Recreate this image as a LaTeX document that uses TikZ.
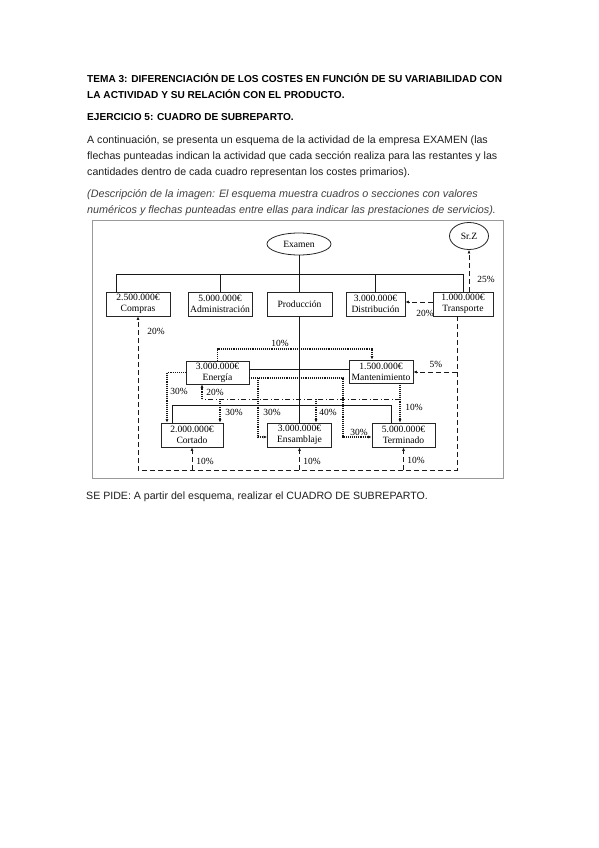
\documentclass[tikz,border=0pt]{standalone}
\usepackage{fontspec}
\setmainfont{Liberation Sans}
\newfontfamily\diagfont{Liberation Serif}
\usetikzlibrary{arrows.meta,shapes.geometric}
\begin{document}
\begin{tikzpicture}[x=1pt,y=-1pt,
  txt/.style={anchor=base west,inner sep=0pt,font=\fontsize{10.6}{13}\selectfont,text=black!88},
  hdr/.style={anchor=base west,inner sep=0pt,font=\fontsize{10.1}{13}\selectfont\bfseries,text=black},
  itx/.style={anchor=base west,inner sep=0pt,font=\fontsize{10.8}{13}\selectfont\itshape,text=black!75},
  box/.style={draw=black!85,line width=0.8pt,minimum width=#1,minimum height=24pt,inner sep=0pt,align=center,font=\diagfont\fontsize{9.6}{11}\selectfont},
  oval/.style={draw=black!85,line width=0.8pt,ellipse,inner sep=0pt,font=\diagfont\fontsize{9.6}{11}\selectfont},
  pct/.style={inner sep=0pt,font=\diagfont\fontsize{9.4}{10}\selectfont},
  solidln/.style={draw=black!90,line width=0.9pt},
  dotln/.style={draw=black!90,line width=1.1pt,dash pattern=on 0.9pt off 1pt},
  dashln/.style={draw=black!90,line width=0.9pt,dash pattern=on 5pt off 3pt},
  ddln/.style={draw=black!90,line width=0.9pt,dash pattern=on 5pt off 2.5pt on 1pt off 2.5pt},
  arr/.style={-{Latex[length=3.5pt,width=3pt]}}
]
\useasboundingbox (0,0) rectangle (599,848);
\fill[white] (0,0) rectangle (599,848);

% ---- text ----
\node[hdr] (t1) at (87,83) {TEMA 3: DIFERENCIACIÓN DE LOS COSTES EN FUNCIÓN DE SU VARIABILIDAD CON};
\node[hdr] (t2) at (87,99) {LA ACTIVIDAD Y SU RELACIÓN CON EL PRODUCTO.};
\node[hdr] (t3) at (87,121) {EJERCICIO 5: CUADRO DE SUBREPARTO.};
\node[txt] (p1) at (87,143) {A continuación, se presenta un esquema de la actividad de la empresa EXAMEN (las};
\node[txt] (p2) at (87,159) {flechas punteadas indican la actividad que cada sección realiza para las restantes y las};
\node[txt] (p3) at (87,175) {cantidades dentro de cada cuadro representan los costes primarios).};
\node[itx] (i1) at (87,197) {(Descripción de la imagen: El esquema muestra cuadros o secciones con valores};
\node[itx] (i2) at (87,213) {numéricos y flechas punteadas entre ellas para indicar las prestaciones de servicios).};
\node[txt] (sp) at (86,499) {SE PIDE: A partir del esquema, realizar el CUADRO DE SUBREPARTO.};

% ---- frame ----
\draw[black!40,line width=0.8pt] (92,220) rectangle (503,478);

% ---- nodes ----
\node[oval,minimum width=64pt,minimum height=22pt] (examen) at (299,244) {Examen};
\node[oval,minimum width=39pt,minimum height=27pt] (srz) at (469,236) {Sr.Z};
\node[box=64pt] (compras) at (138,304) {2.500.000€\\Compras};
\node[box=64pt] (admin) at (220,304) {5.000.000€\\Administración};
\node[box=65pt] (produccion) at (299.5,304) {Producción};
\node[box=59pt] (distrib) at (375.5,304) {3.000.000€\\Distribución};
\node[box=60pt] (transporte) at (463,304) {1.000.000€\\Transporte};
\node[box=63pt,minimum height=23pt] (energia) at (217.5,372.5) {3.000.000€\\Energía};
\node[box=64pt,minimum height=23pt] (mant) at (381,371.5) {1.500.000€\\Mantenimiento};
\node[box=62pt] (cortado) at (192,435) {2.000.000€\\Cortado};
\node[box=64pt] (ensamblaje) at (299.5,435) {3.000.000€\\Ensamblaje};
\node[box=63pt] (terminado) at (403.5,435) {5.000.000€\\Terminado};

% ---- solid structure ----
\coordinate (busL) at (116,274);
\coordinate (busR) at (463,274);
\draw[solidln] (examen.south) -- (examen.south |- busL);
\draw[solidln] (busL |- compras.north) -- (busL) -- (busR) -- (busR |- transporte.north);
\draw[solidln] (admin.north) -- (admin.north |- busL);
\draw[solidln] (produccion.north) -- (produccion.north |- busL);
\draw[solidln] (distrib.north) -- (distrib.north |- busL);
\draw[solidln] (produccion.south) -- (ensamblaje.north);
\draw[solidln] ([yshift=3.5pt]energia.east) -- ([yshift=3.5pt]energia.east -| mant.west);
\coordinate (lbL) at (172,405);
\coordinate (lbR) at (391,405);
\draw[solidln] (lbL |- cortado.north) -- (lbL) -- (lbR) -- (lbR |- terminado.north);

% ---- Energia (dotted) ----
\coordinate (m10) at (372,349);
\draw[dotln,arr] (energia.north) |- (m10) -- (m10 |- mant.north);
\coordinate (c30) at (167,372.5);
\draw[dotln,arr] (energia.west) -- (c30) -- (c30 |- cortado.north);
\coordinate (t30a) at (343,378);
\coordinate (t30b) at (343,437);
\draw[dotln,arr] ([yshift=-5.5pt]energia.east) -- (t30a) -- (t30b) -- (t30b -| terminado.west);
\coordinate (s30a) at (258,378);
\coordinate (s30b) at (258,437);
\draw[dotln,arr] (s30a) -- (s30b) -- (s30b -| ensamblaje.west);

% ---- Mantenimiento (dash-dot) ----
\coordinate (mt) at (400,399);
\coordinate (ddE) at (202,399);
\coordinate (ddC) at (220,399);
\coordinate (ddS) at (316,399);
\draw[dotln,arr] (mant.south -| mt) -- (terminado.north -| mt);
\draw[ddln] (mt) -- (ddE);
\draw[dotln,arr] (ddE) -- (ddE |- energia.south);
\draw[dotln,arr] (ddC) -- (ddC |- cortado.north);
\draw[dotln,arr] (ddS) -- (ddS |- ensamblaje.north);

% ---- Transporte (dashed) ----
\draw[dashln,arr] (srz.south |- transporte.north) -- (srz.south);
\draw[dashln,arr] ([yshift=2pt]transporte.west) -- ([yshift=2pt]transporte.west -| distrib.east);
\coordinate (tb) at (457,470);
\coordinate (lb) at (138,470);
\draw[dashln,arr] (transporte.south -| tb) -- (tb) -- (lb) -- (compras.south);
\coordinate (t5) at (457,372);
\draw[dashln,arr] (t5) -- (t5 -| mant.east);
\draw[dashln,arr] (cortado.south |- tb) -- (cortado.south);
\draw[dashln,arr] (ensamblaje.south |- tb) -- (ensamblaje.south);
\draw[dashln,arr] (terminado.south |- tb) -- (terminado.south);

% ---- percentages ----
\node[pct] (l25) at (486,279) {25\%};
\node[pct] (l20d) at (425,313) {20\%};
\node[pct] (l20c) at (156,331) {20\%};
\node[pct] (l10m) at (280,343) {10\%};
\node[pct] (l5) at (436,364) {5\%};
\node[pct] (l30c) at (179,391) {30\%};
\node[pct] (l20e) at (215,392) {20\%};
\node[pct] (l30mc) at (234,412) {30\%};
\node[pct] (l30s) at (272,412) {30\%};
\node[pct] (l40) at (328,412) {40\%};
\node[pct] (l10t) at (414,407) {10\%};
\node[pct] (l30t) at (359,432) {30\%};
\node[pct] (b1) at (205,461) {10\%};
\node[pct] (b2) at (312,461) {10\%};
\node[pct] (b3) at (416,460) {10\%};
\end{tikzpicture}
\end{document}
